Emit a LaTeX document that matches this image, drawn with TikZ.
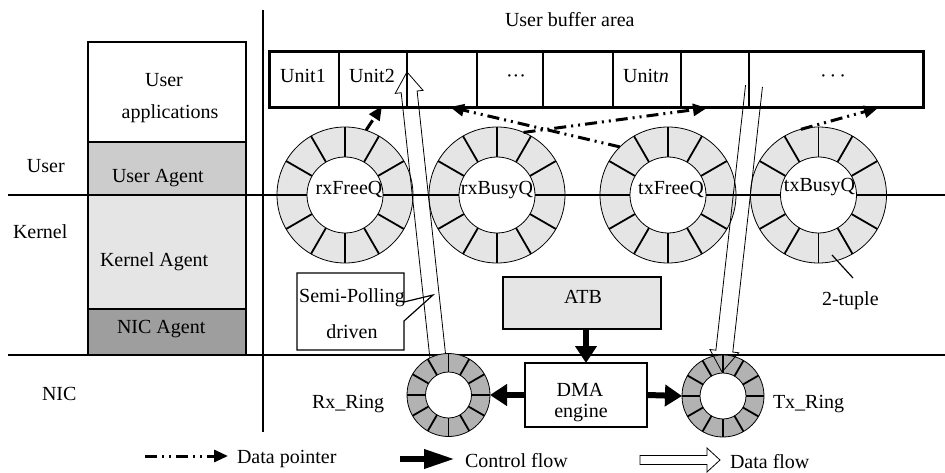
\documentclass[tikz,border=0pt]{standalone}
\usepackage{fontspec}
\setmainfont{Liberation Serif}
\usetikzlibrary{arrows.meta,calc}
\definecolor{lightg}{gray}{0.9}
\definecolor{midg}{gray}{0.8}
\definecolor{darkg}{gray}{0.62}
\definecolor{ringg}{gray}{0.7}
\newcommand{\qring}[6]{%
  \node[ringout, fill=#6, minimum size=#4*2pt] (#1) at (#2,#3) {};
  \foreach \a in {0,30,...,330}{\draw[spoke] ($(#1.center)+(\a:#5)$) -- ($(#1.center)+(\a:#4)$);}
  \node[ringin, minimum size=#5*2pt] (#1in) at (#1.center) {};
}
\begin{document}
\begin{tikzpicture}[x=1pt,y=-1pt,
  every node/.style={font=\fontsize{20}{24}\selectfont, inner sep=0pt, outer sep=0pt},
  txt/.style={anchor=base},
  txw/.style={anchor=base west},
  box/.style={draw, line width=1.5pt, anchor=north west, minimum width=158pt},
  cell/.style={draw, line width=1.5pt, minimum height=56pt, anchor=north west},
  sep/.style={line width=2.5pt},
  ringout/.style={circle, draw, line width=0.8pt},
  ringin/.style={circle, draw, fill=white, line width=0.8pt},
  spoke/.style={line width=1.8pt},
  ctrl/.style={line width=6pt, -{Triangle[length=17pt,width=21pt]}},
  ctrlleg/.style={line width=6.5pt, -{Triangle[length=31pt,width=18pt]}},
  dptr/.style={line width=3pt, dash pattern=on 12pt off 5pt on 2pt off 5pt on 2pt off 5pt, -{Triangle[length=14pt,width=12pt]}},
  hollow/.style={line width=0.8pt, line join=miter},
  thin/.style={line width=1.2pt},
]
\useasboundingbox (0,0) rectangle (945,473);

% separators
\coordinate (L1) at (8,195); \coordinate (R1) at (945,195);
\coordinate (L2) at (8,355); \coordinate (R2) at (945,355);
\coordinate (V1) at (263,10); \coordinate (V2) at (263,432);
\draw[sep] (L1) -- (R1);
\draw[sep] (L2) -- (R2);
\draw[line width=1.5pt] (V1) -- (V2);

% layer labels
\node[txw] (luser) at (27,173) {User};
\node[txw] (lkernel) at (13,238) {Kernel};
\node[txw] (lnic) at (42,400) {NIC};

% left stack
\node[box, fill=white, minimum height=100pt] (apps) at (88,42) {};
\node[box, fill=midg, minimum height=53pt] (uagent) at (88,142) {};
\node[box, fill=lightg, minimum height=114pt] (kagent) at (88,195) {};
\node[box, fill=darkg, minimum height=46pt] (nagent) at (88,309) {};
\node[txt] (appsa) at (164,87) {User};
\node[txt] (appsb) at (170,119) {applications};
\node[txw] (uagentt) at (112,183) {User Agent};
\node[txw] (kagentt) at (100,266) {Kernel Agent};
\node[txw] (nagentt) at (117,333) {NIC Agent};

% user buffer
\node[txw] (ubuf) at (505,27) {User buffer area};
\node[cell, minimum width=70pt] (c1) at (269,52) {};
\node[cell, minimum width=68pt] (c2) at (339,52) {};
\node[cell, minimum width=70pt] (c3) at (407,52) {};
\node[cell, minimum width=66pt] (c4) at (477,52) {};
\node[cell, minimum width=70pt] (c5) at (543,52) {};
\node[cell, minimum width=68pt] (c6) at (613,52) {};
\node[cell, minimum width=68pt] (c7) at (681,52) {};
\node[cell, minimum width=174pt] (c8) at (749,52) {};
\draw[line width=3pt] (c1.north west) rectangle (c8.south east);
\node[txt] (u1) at (303,83) {Unit1};
\node[txt] (u2) at (372,83) {Unit2};
\node[txt] (d1) at (516,83) {···};
\node[txt] (un) at (646,83) {Unit\textit{n}};
\node[txt] (d2) at (833,83) {·\kern3pt·\kern3pt·};

% big rings
\qring{rxFreeQ}{345}{195}{68}{38}{lightg}
\qring{rxBusyQ}{497}{195}{68}{38}{lightg}
\qring{txFreeQ}{668}{195}{68}{38}{lightg}
\qring{txBusyQ}{818.5}{195}{68}{38}{lightg}
\node[txt] (rxfl) at (349,195) {rxFreeQ};
\node[txt] (rxbl) at (497,195) {rxBusyQ};
\node[txt] (txfl) at (671,195) {txFreeQ};
\node[txt] (txbl) at (819.5,192) {txBusyQ};

% data flow Rx (under NIC ring)
\coordinate (rxT) at (439,368);
\coordinate (rxP) at (407,72);
\coordinate (rxN) at ($(rxP)!20pt!(rxT)$);
\draw[hollow] ($(rxT)!8pt!90:(rxP)$) -- ($(rxN)!8pt!-90:(rxT)$) -- ($(rxN)!14pt!-90:(rxT)$) -- (rxP)
  -- ($(rxN)!14pt!90:(rxT)$) -- ($(rxN)!8pt!90:(rxT)$) -- ($(rxT)!8pt!-90:(rxP)$);

% NIC rings
\qring{rxring}{448.5}{395}{41.5}{23}{ringg}
\qring{txring}{723}{396}{41}{23}{ringg}
\node[txw] (rxrl) at (312,408) {Rx\_Ring};
\node[txw] (txrl) at (773,408) {Tx\_Ring};

% data flow Tx (over rings)
\coordinate (txT) at (754,86);
\coordinate (txP) at (722,372);
\coordinate (txN) at ($(txP)!21pt!(txT)$);
\draw[hollow] ($(txT)!8.5pt!90:(txP)$) -- ($(txN)!8.5pt!-90:(txT)$) -- ($(txN)!14.5pt!-90:(txT)$) -- (txP)
  -- ($(txN)!14.5pt!90:(txT)$) -- ($(txN)!8.5pt!90:(txT)$) -- ($(txT)!8.5pt!-90:(txP)$);

% ATB and DMA
\node[draw, line width=1.5pt, fill=lightg, minimum width=158pt, minimum height=52pt] (atb) at (582,303) {};
\node[txt] (atbt) at (583,303) {ATB};
\node[draw, line width=1.5pt, fill=white, minimum width=122pt, minimum height=64pt] (dma) at (586,395) {};
\node[txt] (dmat) at (580,396) {DMA};
\node[txt] (dmae) at (581,417) {engine};
\draw[ctrl] (atb.south -| dma.north) -- (dma.north);
\draw[ctrl] (dma.west) -- (rxring.east);
\draw[ctrl] (dma.east) -- (txring.west);

% Semi-Polling callout
\node[minimum width=107pt, minimum height=77pt] (semi) at (350.5,311.5) {};
\coordinate (semitip) at (433,295);
\draw[line width=1.2pt] (semi.north west) -- (semi.north east) -- ($(semi.north east)+(0,29)$) -- (semitip)
  -- ($(semi.north east)+(0,48)$) -- (semi.south east) -- (semi.south west) -- cycle;
\node[txt] (semia) at (352,302) {Semi-Polling};
\node[txt] (semib) at (352,338) {driven};

% data pointers
\coordinate (p1) at (382,106);
\coordinate (p2) at (707,108);
\coordinate (p3) at (450,107);
\coordinate (p4) at (878,108);
\draw[dptr] (rxFreeQ.72) -- (p1);
\draw[dptr] (rxBusyQ.67) -- (p2);
\draw[dptr] (txFreeQ.135) -- (p3);
\draw[dptr] (txBusyQ.105) -- (p4);

% 2-tuple
\node[txw] (tuple) at (822,305) {2-tuple};
\coordinate (tupA) at (832,255);
\coordinate (tupB) at (853,278);
\draw[thin] (tupA) -- (tupB);

% legend
\coordinate (lg1a) at (145,456); \coordinate (lg1b) at (228,456);
\draw[dptr] (lg1a) -- (lg1b);
\node[txw] (lgt1) at (237,463) {Data pointer};
\coordinate (lg2a) at (400,459); \coordinate (lg2b) at (455,459);
\draw[ctrlleg] (lg2a) -- (lg2b);
\node[txw] (lgt2) at (465,467) {Control flow};
\coordinate (lgT) at (640,460);
\coordinate (lgP) at (720,460);
\coordinate (lgN) at ($(lgP)!13pt!(lgT)$);
\draw[hollow] ($(lgT)!4.5pt!90:(lgP)$) -- ($(lgN)!4.5pt!-90:(lgT)$) -- ($(lgN)!12pt!-90:(lgT)$) -- (lgP)
  -- ($(lgN)!12pt!90:(lgT)$) -- ($(lgN)!4.5pt!90:(lgT)$) -- ($(lgT)!4.5pt!-90:(lgP)$) -- cycle;
\node[txw] (lgt3) at (730,468) {Data flow};
\end{tikzpicture}
\end{document}
